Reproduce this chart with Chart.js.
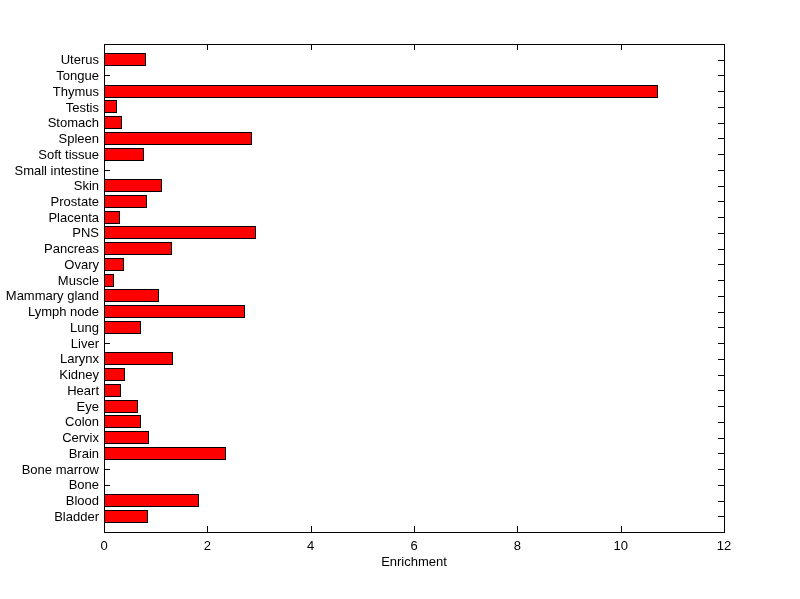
<!DOCTYPE html>
<html>
<head>
<meta charset="utf-8">
<script src="https://cdn.jsdelivr.net/npm/chart.js@4/dist/chart.umd.min.js"></script>
<style>
html,body{margin:0;padding:0;background:#fff;}
#wrap{width:800px;height:599px;}
</style>
</head>
<body>
<div id="wrap"><canvas id="c" width="800" height="599"></canvas></div>
<script>
// categories from bottom (y=1) to top (y=30)
const categories = ["Bladder","Blood","Bone","Bone marrow","Brain","Cervix","Colon","Eye","Heart","Kidney","Larynx","Liver","Lung","Lymph node","Mammary gland","Muscle","Ovary","Pancreas","PNS","Placenta","Prostate","Skin","Small intestine","Soft tissue","Spleen","Stomach","Testis","Thymus","Tongue","Uterus"];
const enrichment = [0.85,1.83,0,0,2.36,0.88,0.71,0.65,0.32,0.40,1.33,0,0.71,2.72,1.06,0.19,0.38,1.31,2.94,0.30,0.83,1.12,0,0.77,2.86,0.34,0.26,10.73,0,0.81];
const xTicks = [0,2,4,6,8,10,12];
const xTitle = "Enrichment";

const FONT = {family:"'Liberation Sans', Arial, Helvetica, sans-serif", size:13, lineHeight:1};

const points = categories.map((c,i)=>({x:enrichment[i], y:i+1}));

const frame = {
  id:'frame',
  beforeDatasetsDraw(chart){
    const {ctx, chartArea:a, scales} = chart;
    // snap bar elements (positioned by the library) to whole pixels for crisp edges
    chart.getDatasetMeta(0).data.forEach(el=>{
      const h = 13;
      const top = Math.round(el.y - h/2);
      el.y = top + h/2;
      el.height = h;
      el.x = Math.round(el.x);
      el.base = Math.round(el.base);
    });
    ctx.save();
    ctx.strokeStyle='#000'; ctx.lineWidth=1;
    ctx.beginPath();
    for(let i=1;i<=categories.length;i++){
      const y=Math.round(scales.y.getPixelForValue(i))+0.5;
      ctx.moveTo(a.left,y); ctx.lineTo(a.left+6,y);
      ctx.moveTo(a.right,y); ctx.lineTo(a.right-6,y);
    }
    xTicks.forEach(v=>{
      const x=Math.round(scales.x.getPixelForValue(v))+0.5;
      ctx.moveTo(x,a.bottom); ctx.lineTo(x,a.bottom-6);
      ctx.moveTo(x,a.top); ctx.lineTo(x,a.top+6);
    });
    ctx.stroke();
    ctx.restore();
  },
  afterDraw(chart){
    const {ctx, chartArea:a} = chart;
    ctx.save();
    ctx.strokeStyle='#000'; ctx.lineWidth=1;
    ctx.strokeRect(Math.round(a.left)+0.5, Math.round(a.top)+0.5, Math.round(a.right-a.left), Math.round(a.bottom-a.top));
    ctx.restore();
  }
};

new Chart(document.getElementById('c'), {
  type:'bar',
  data:{datasets:[{
    data:points,
    backgroundColor:'#ff0000',
    borderColor:'#000000',
    borderWidth:1,
    borderSkipped:false,
    barPercentage:0.8,
    categoryPercentage:1
  }]},
  options:{
    indexAxis:'y',
    responsive:false,
    animation:false,
    devicePixelRatio:1,
    layout:{padding:{left:0,top:44,right:76,bottom:0}},
    plugins:{legend:{display:false},tooltip:{enabled:false}},
    scales:{
      x:{
        type:'linear', min:0, max:12,
        afterFit(s){ s.height = 67; },
        afterBuildTicks(s){ s.ticks = xTicks.map(v=>({value:v})); },
        grid:{display:false, drawTicks:false},
        border:{display:false},
        ticks:{color:'#000', font:FONT, padding:8, maxRotation:0},
        title:{display:true, text:xTitle, color:'#000', font:FONT, padding:{top:0,bottom:30}}
      },
      y:{
        type:'linear', min:0, max:categories.length+1, offset:false,
        afterFit(s){ s.width = 104; },
        afterBuildTicks(s){ s.ticks = categories.map((c,i)=>({value:i+1})); },
        grid:{display:false, drawTicks:false, offset:false},
        border:{display:false},
        ticks:{color:'#000', font:FONT, padding:5, autoSkip:false, labelOffset:1,
          callback:(v)=>categories[v-1] ?? ''}
      }
    }
  },
  plugins:[frame]
});
</script>
</body>
</html>
